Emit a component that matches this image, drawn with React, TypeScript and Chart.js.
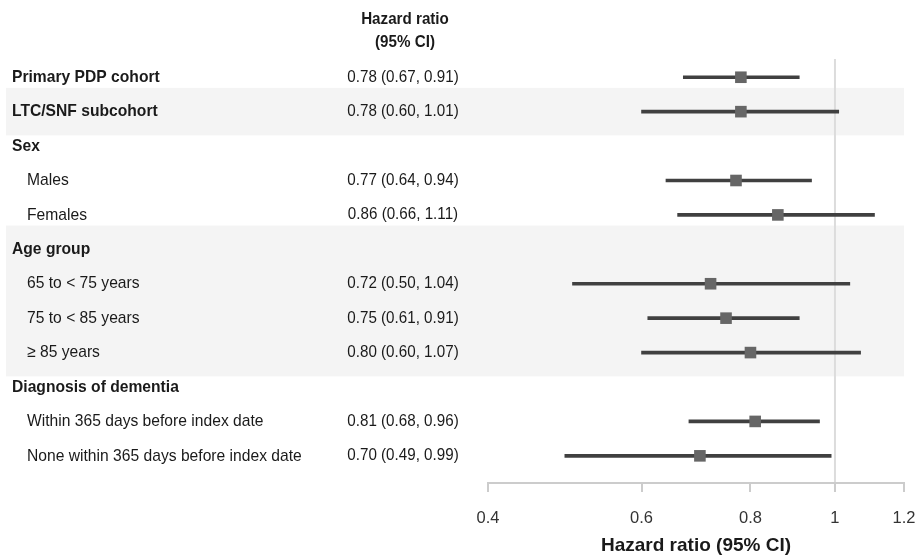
import React, { useEffect, useRef } from 'react';
import { Chart, registerables } from 'chart.js';

Chart.register(...registerables);

const rowLabels = [
  'Primary PDP cohort',
  'LTC/SNF subcohort',
  'Sex',
  'Males',
  'Females',
  'Age group',
  '65 to < 75 years',
  '75 to < 85 years',
  '≥ 85 years',
  'Diagnosis of dementia',
  'Within 365 days before index date',
  'None within 365 days before index date',
];
const isGroupRow = [true, true, true, false, false, true, false, false, false, true, false, false];
const hazardRatios = [0.78, 0.78, null, 0.77, 0.86, null, 0.72, 0.75, 0.80, null, 0.81, 0.70];
const ciLower = [0.67, 0.60, null, 0.64, 0.66, null, 0.50, 0.61, 0.60, null, 0.68, 0.49];
const ciUpper = [0.91, 1.01, null, 0.94, 1.11, null, 1.04, 0.91, 1.07, null, 0.96, 0.99];
const xTickValues = [0.4, 0.6, 0.8, 1, 1.2];
const shadedRowRanges = [[1, 1], [5, 8]];
const columnHeader = ['Hazard ratio', '(95% CI)'];
const axisTitle = 'Hazard ratio (95% CI)';
const referenceValue = 1;

const FONT = "'Liberation Sans', Arial, Helvetica, sans-serif";
const TEXT_SCALE_X = 0.92;

const fmt = (v: number) => v.toFixed(2);

function drawText(ctx: CanvasRenderingContext2D, text: string, x: number, y: number, font: string, align: CanvasTextAlign) {
  ctx.save();
  ctx.translate(x, y);
  ctx.scale(TEXT_SCALE_X, 1);
  ctx.font = font;
  ctx.textAlign = align;
  ctx.textBaseline = 'middle';
  ctx.fillText(text, 0, 0);
  ctx.restore();
}

const forestPlugin = {
  id: 'forestExtras',
  beforeDraw(chart: any) {
    const { ctx, chartArea, scales } = chart;
    const y = scales.y;
    const x = scales.x;
    ctx.save();
    ctx.fillStyle = '#f4f4f4';
    for (const [a, b] of shadedRowRanges) {
      const top = y.getPixelForValue(a - 0.69);
      const bot = y.getPixelForValue(b + 0.69);
      ctx.fillRect(6, top, chartArea.right - 6, bot - top);
    }
    const rx = x.getPixelForValue(referenceValue);
    ctx.strokeStyle = '#dcdcdc';
    ctx.lineWidth = 2;
    ctx.beginPath();
    ctx.moveTo(rx, chartArea.top);
    ctx.lineTo(rx, chartArea.bottom + 9);
    ctx.stroke();
    ctx.restore();
  },
  afterDraw(chart: any) {
    const { ctx, scales } = chart;
    const y = scales.y;
    ctx.save();
    ctx.fillStyle = '#1a1a1a';
    const headBold = `bold 16.5px ${FONT}`;
    const labelBold = `bold 17px ${FONT}`;
    const labelRegular = `17px ${FONT}`;
    const ciRegular = `16.5px ${FONT}`;
    drawText(ctx, columnHeader[0], 405, 19, headBold, 'center');
    drawText(ctx, columnHeader[1], 405, 42, headBold, 'center');
    rowLabels.forEach((label, i) => {
      const py = y.getPixelForValue(i);
      if (isGroupRow[i]) {
        drawText(ctx, label, 12, py, labelBold, 'left');
      } else {
        drawText(ctx, label, 27, py, labelRegular, 'left');
      }
      const hr = hazardRatios[i];
      const lo = ciLower[i];
      const hi = ciUpper[i];
      if (hr != null && lo != null && hi != null) {
        drawText(ctx, `${fmt(hr)} (${fmt(lo)}, ${fmt(hi)})`, 403, py, ciRegular, 'center');
      }
    });
    ctx.restore();
  },
};

export default function App() {
  const canvasRef = useRef<HTMLCanvasElement | null>(null);

  useEffect(() => {
    if (!canvasRef.current) return;
    const idx = rowLabels.map((_, i) => i).filter((i) => hazardRatios[i] != null);
    const chart = new Chart(canvasRef.current, {
      type: 'bar',
      data: {
        datasets: [
          {
            type: 'line',
            label: 'Hazard ratio',
            data: idx.map((i) => ({ x: hazardRatios[i] as number, y: i })),
            showLine: false,
            pointStyle: 'rect',
            pointRadius: 8.2,
            pointHoverRadius: 8.2,
            pointBackgroundColor: '#666666',
            pointBorderWidth: 0,
            borderWidth: 0,
            xAxisID: 'x',
            yAxisID: 'y',
            order: 1,
          } as any,
          {
            type: 'bar',
            label: '95% CI',
            data: idx.map((i) => ({ x: [ciLower[i], ciUpper[i]], y: i })),
            backgroundColor: '#404040',
            borderWidth: 0,
            barThickness: 3,
            grouped: false,
            xAxisID: 'x',
            yAxisID: 'y',
            order: 2,
          } as any,
        ],
      },
      options: {
        indexAxis: 'y',
        animation: false,
        responsive: false,
        maintainAspectRatio: false,
        layout: { padding: { left: 488, right: 12, top: 59, bottom: 0 } },
        plugins: {
          legend: { display: false },
          tooltip: { enabled: false },
        },
        scales: {
          x: {
            type: 'logarithmic',
            position: 'bottom',
            min: 0.4,
            max: 1.2,
            afterBuildTicks: (axis: any) => {
              axis.ticks = xTickValues.map((v) => ({ value: v }));
            },
            ticks: {
              callback: (v: any) => String(v),
              font: { family: FONT, size: 16.5, lineHeight: 3.15 },
              color: '#333333',
              padding: 0,
              maxRotation: 0,
              autoSkip: false,
            },
            grid: {
              drawOnChartArea: false,
              drawTicks: true,
              tickLength: 9,
              color: '#cccccc',
              lineWidth: 2,
            },
            border: { display: true, color: '#cccccc', width: 2 },
            title: {
              display: true,
              text: axisTitle,
              font: { family: FONT, size: 19, weight: 'bold', lineHeight: 1 },
              color: '#1a1a1a',
              padding: { top: -8, bottom: 0 },
            },
          },
          y: {
            type: 'linear',
            reverse: true,
            offset: false,
            min: -0.53,
            max: 11.79,
            display: false,
          },
        },
      } as any,
      plugins: [forestPlugin],
    });
    return () => chart.destroy();
  }, []);

  return (
    <div style={{ position: 'absolute', left: 0, top: 0, width: 916, height: 555 }}>
      <canvas ref={canvasRef} width={916} height={555} style={{ display: 'block' }} />
    </div>
  );
}
